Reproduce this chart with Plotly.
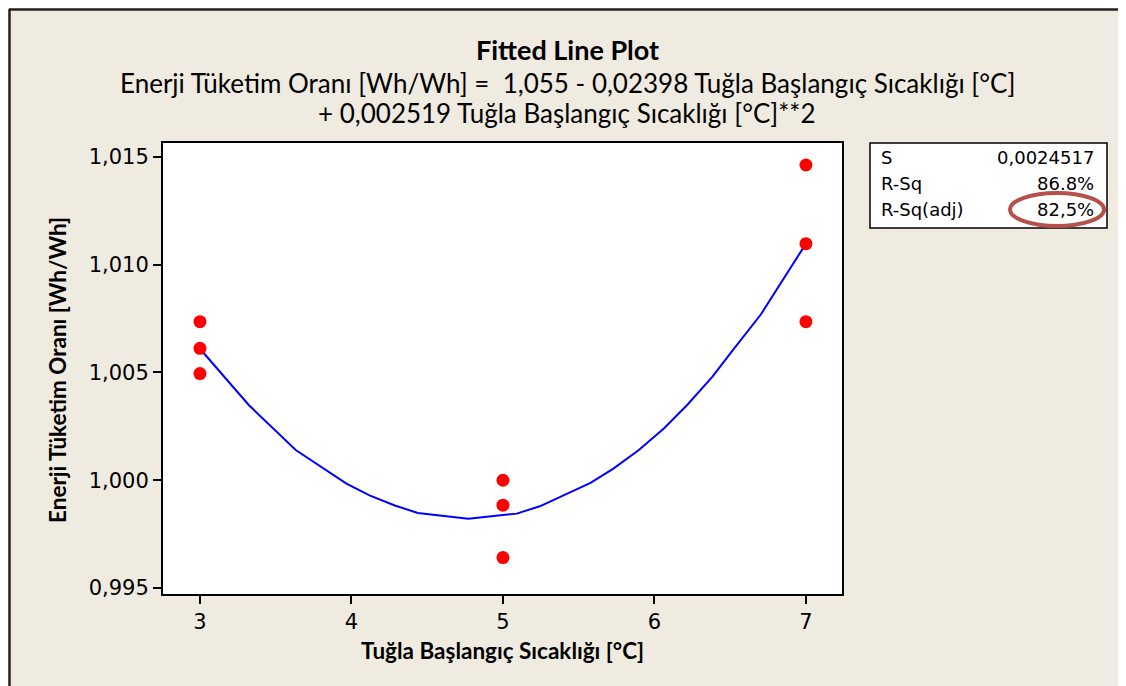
import plotly.graph_objects as go

# Observed data points
x_obs = [3, 3, 3, 5, 5, 5, 7, 7, 7]
y_obs = [1.00736, 1.00612, 1.00495, 1.0000, 0.99884, 0.99641, 1.01463, 1.01098, 1.00736]

# Fitted curve
x_fit = [3.0, 3.322, 3.632, 3.967, 4.119, 4.286, 4.438, 4.772, 5.091, 5.243, 5.578,
         5.729, 5.897, 6.064, 6.216, 6.383, 6.52, 6.702, 7.0]
y_fit = [1.00610, 1.00349, 1.0014, 0.99984, 0.9993, 0.99883, 0.99848, 0.99821, 0.99845,
         0.99879, 0.99988, 1.00054, 1.0014, 1.00241, 1.00349, 1.00481, 1.00606, 1.00769, 1.01098]

x_ticks = [3, 4, 5, 6, 7]
y_ticks = [0.995, 1.000, 1.005, 1.010, 1.015]
y_tick_labels = ["0,995", "1,000", "1,005", "1,010", "1,015"]

stat_names = ["S", "R-Sq", "R-Sq(adj)"]
stat_values = ["0,0024517", "86.8%", "82,5%"]

title_main = "Fitted Line Plot"
title_eq1 = "Enerji Tüketim Oranı [Wh/Wh] =  1,055 - 0,02398 Tuğla Başlangıç Sıcaklığı [°C]"
title_eq2 = "+ 0,002519 Tuğla Başlangıç Sıcaklığı [°C]**2"
x_title = "Tuğla Başlangıç Sıcaklığı [°C]"
y_title = "Enerji Tüketim Oranı [Wh/Wh]"

OFF = 8  # page body margin
W, H = 1126 - OFF, 686 - OFF
L, R, T, B = 163, 842, 143, 594  # plot area in page pixels
pw, ph = R - L, B - T

def px(x):
    return (x - L) / pw

def py(y):
    return 1 - (y - T) / ph

BG = "#EFEBE1"
title_font = "Lato, Open Sans, sans-serif"
tick_font = "DejaVu Sans, Verdana, sans-serif"

fig = go.Figure()
fig.add_trace(go.Scatter(x=x_fit, y=y_fit, mode="lines",
                         line=dict(color="#0000FF", width=2), showlegend=False, hoverinfo="skip"))
fig.add_trace(go.Scatter(x=x_obs, y=y_obs, mode="markers",
                         marker=dict(color="#FF0000", size=13, line=dict(width=0)), showlegend=False))

fig.update_layout(
    width=W, height=H,
    margin=dict(l=L - OFF, r=W - (R - OFF), t=T - OFF, b=H - (B - OFF)),
    paper_bgcolor=BG, plot_bgcolor="white",
    showlegend=False,
)
fig.update_xaxes(range=[2.756, 7.238], tickvals=x_ticks, ticks="outside", ticklen=8,
                 tickwidth=1.5, tickcolor="black", showgrid=False, zeroline=False,
                 showline=True, linecolor="black", linewidth=2, mirror=True,
                 tickfont=dict(family=tick_font, size=21, color="black"))
fig.update_yaxes(range=[0.99472, 1.01565], tickvals=y_ticks, ticktext=y_tick_labels,
                 ticks="outside", ticklen=8, tickwidth=1.5, tickcolor="black",
                 showgrid=False, zeroline=False, showline=True, linecolor="black",
                 linewidth=2, mirror=True,
                 tickfont=dict(family=tick_font, size=21, color="black"))

def note(text, x, y, size, family=title_font, xanchor="center", angle=0):
    return dict(text=text, x=px(x), y=py(y), xref="paper", yref="paper",
                xanchor=xanchor, yanchor="middle", showarrow=False, textangle=angle,
                font=dict(family=family, size=size, color="black"))

ann = [
    note("<b>" + title_main + "</b>", 567, 50, 27),
    note(title_eq1, 567, 83, 26),
    note(title_eq2, 567, 113, 26),
    note("<b>" + x_title + "</b>", 502, 650, 22.5),
    note("<b>" + y_title + "</b>", 57, 370, 22.5, angle=-90),
]
row_y = [157, 183, 209]
for name, val, ry in zip(stat_names, stat_values, row_y):
    ann.append(note(name, 879, ry, 18, family=tick_font, xanchor="left"))
    ann.append(note(val, 1096, ry, 18, family=tick_font, xanchor="right"))
fig.update_layout(annotations=ann)

shapes = []
# stats box
shapes.append(dict(type="rect", xref="paper", yref="paper", x0=px(870), x1=px(1107),
                   y0=py(228), y1=py(143), line=dict(color="black", width=1.5), fillcolor="white",
                   layer="below"))
# highlight ellipse
shapes.append(dict(type="circle", xref="paper", yref="paper", x0=px(1010), x1=px(1104),
                   y0=py(226), y1=py(193), line=dict(color="#B5504A", width=4)))
# outer frame: left and top edges only
shapes.append(dict(type="line", xref="paper", yref="paper", x0=px(9.5), x1=px(9.5),
                   y0=py(686), y1=py(9), line=dict(color="#222222", width=2.5)))
shapes.append(dict(type="line", xref="paper", yref="paper", x0=px(9), x1=px(1126),
                   y0=py(9.5), y1=py(9.5), line=dict(color="#222222", width=2.5)))
fig.update_layout(shapes=shapes)

fig.write_html("out.html")
